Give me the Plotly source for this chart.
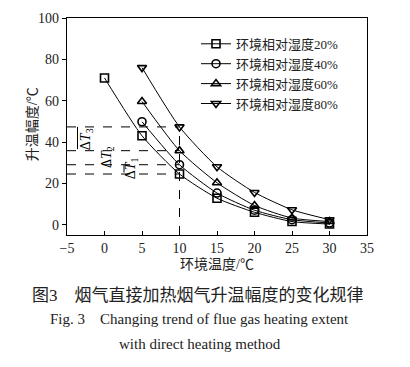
import plotly.graph_objects as go

temps = [0, 5, 10, 15, 20, 25, 30]
rh20 = [71, 43, 24.5, 12.8, 6, 1.5, 0.3]
rh40 = [None, 49.8, 29, 15.3, 7, 2.4, 0.8]
rh60 = [None, 59.6, 35.8, 20.3, 9.3, 3.2, 1.5]
rh80 = [None, 76, 47.3, 28, 15.6, 7.2, 2.4]
names = ["环境相对湿度20%", "环境相对湿度40%", "环境相对湿度60%", "环境相对湿度80%"]
symbols = ["square-open", "circle-open", "triangle-up-open", "triangle-down-open"]
x_ticks = [-5, 0, 5, 10, 15, 20, 25, 30, 35]
y_ticks = [0, 20, 40, 60, 80, 100]
ref_temp = 10

SERIF = "Liberation Serif, Noto Sans CJK SC, serif"
series = [rh20, rh40, rh60, rh80]

fig = go.Figure()
for vals, nm, sym in zip(series, names, symbols):
    xs = [t for t, v in zip(temps, vals) if v is not None]
    ys = [v for v in vals if v is not None]
    fig.add_trace(go.Scatter(
        x=xs, y=ys, name=nm, mode="lines+markers",
        line=dict(color="black", width=1, shape="spline", smoothing=0.6),
        marker=dict(symbol=sym, size=8, color="black", line=dict(width=1.6, color="black")),
    ))

ri = temps.index(ref_temp)
levels = [s[ri] for s in series]
for lv in levels:
    fig.add_shape(type="line", xref="x", yref="y", x0=-5, x1=ref_temp, y0=lv, y1=lv,
                  line=dict(color="black", width=1, dash="dash"))
fig.add_shape(type="line", xref="x", yref="y", x0=ref_temp, x1=ref_temp, y0=-5, y1=max(levels),
              line=dict(color="black", width=1, dash="dash"))

# delta arrows
fig.add_annotation(x=-3.6, y=levels[3], ax=-3.6, ay=levels[2], xref="x", yref="y",
                   axref="x", ayref="y", showarrow=True, arrowhead=0, arrowwidth=1,
                   arrowcolor="black", text="")
fig.add_annotation(x=2.6, y=levels[1], ax=2.6, ay=levels[0], xref="x", yref="y",
                   axref="x", ayref="y", showarrow=True, arrowhead=0, arrowwidth=1,
                   arrowcolor="black", text="")
dlabels = [("Δ<i>T</i><sub>3</sub>", -2.3, 41.5), ("Δ<i>T</i><sub>2</sub>", 0.4, 32.5),
           ("Δ<i>T</i><sub>1</sub>", 3.6, 27)]
for t, xx, yy in dlabels:
    fig.add_annotation(x=xx, y=yy, xref="x", yref="y", text=t, showarrow=False,
                       textangle=-90, font=dict(family=SERIF, size=14, color="black"))

fig.update_layout(
    width=402, height=359,
    margin=dict(l=59, r=43, t=3, b=132),
    paper_bgcolor="white", plot_bgcolor="white",
    font=dict(family=SERIF, size=14, color="#222"),
    showlegend=True,
    legend=dict(x=0.43, y=0.95, xanchor="left", yanchor="top",
                font=dict(family=SERIF, size=13, color="#222"),
                bgcolor="rgba(0,0,0,0)", tracegroupgap=0, itemwidth=30),
    xaxis=dict(range=[-5, 35], tickvals=x_ticks, showline=True, linecolor="black",
               linewidth=1.2, mirror=True, ticks="inside", ticklen=4, tickcolor="black",
               showgrid=False, zeroline=False, ticklabeloverflow="allow"),
    yaxis=dict(range=[-5, 100], tickvals=y_ticks, showline=True, linecolor="black",
               linewidth=1.2, mirror=True, ticks="outside", ticklen=4, tickcolor="black",
               showgrid=False, zeroline=False, ticklabeloverflow="allow"),
)

def cap(text, x, y, size, angle=0):
    fig.add_annotation(x=x, y=y, xref="paper", yref="paper", text=text, showarrow=False,
                       xanchor="center", yanchor="middle", textangle=angle,
                       font=dict(family=SERIF, size=size, color="#222"))

cap("环境温度/℃", 0.5, -0.138, 14)
cap("升温幅度/℃", -0.117, 0.51, 14, -90)
cap("图3　烟气直接加热烟气升温幅度的变化规律", 0.438, -0.277, 17)
cap("Fig. 3    Changing trend of flue gas heating extent", 0.443, -0.388, 15)
cap("with direct heating method", 0.443, -0.504, 15)

fig.write_html("out.html")
